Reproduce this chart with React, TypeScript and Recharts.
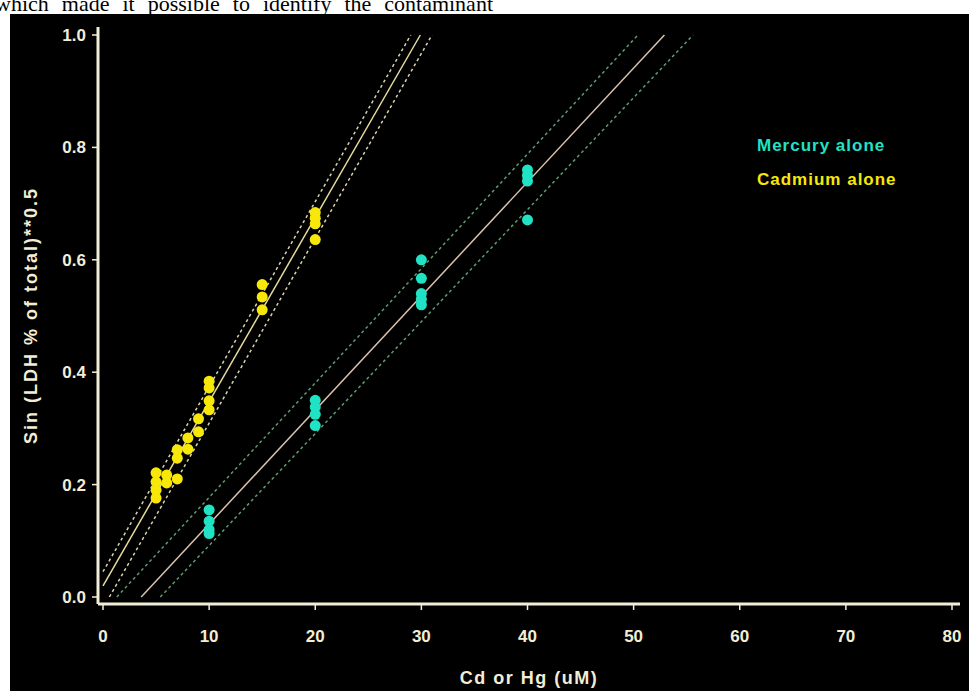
import { ComposedChart, XAxis, YAxis, Scatter, Line, Legend } from "recharts";

// measured points, x = metal concentration (uM), y = transformed LDH release
const mercuryPoints = [
  { x: 10, y: 0.155 }, { x: 10, y: 0.135 }, { x: 10, y: 0.12 }, { x: 10, y: 0.113 },
  { x: 20, y: 0.35 }, { x: 20, y: 0.338 }, { x: 20, y: 0.325 }, { x: 20, y: 0.305 },
  { x: 30, y: 0.6 }, { x: 30, y: 0.567 }, { x: 30, y: 0.54 }, { x: 30, y: 0.53 }, { x: 30, y: 0.52 },
  { x: 40, y: 0.76 }, { x: 40, y: 0.75 }, { x: 40, y: 0.74 }, { x: 40, y: 0.671 },
];

const cadmiumPoints = [
  { x: 5, y: 0.221 }, { x: 5, y: 0.205 }, { x: 5, y: 0.19 }, { x: 5, y: 0.176 },
  { x: 6, y: 0.217 }, { x: 6, y: 0.203 },
  { x: 7, y: 0.262 }, { x: 7, y: 0.247 }, { x: 7, y: 0.21 },
  { x: 8, y: 0.283 }, { x: 8, y: 0.263 },
  { x: 9, y: 0.317 }, { x: 9, y: 0.294 },
  { x: 10, y: 0.384 }, { x: 10, y: 0.372 }, { x: 10, y: 0.349 }, { x: 10, y: 0.333 },
  { x: 15, y: 0.556 }, { x: 15, y: 0.534 }, { x: 15, y: 0.511 },
  { x: 20, y: 0.684 }, { x: 20, y: 0.674 }, { x: 20, y: 0.664 }, { x: 20, y: 0.636 },
];

// fitted lines and their confidence bands (end points)
const cadmiumFit = [{ x: 0, y: 0.02 }, { x: 29.9, y: 1.0 }];
const cadmiumUpper = [{ x: 0, y: 0.045 }, { x: 29.0, y: 1.0 }];
const cadmiumLower = [{ x: 0.6, y: 0.0 }, { x: 31.0, y: 1.0 }];
const mercuryFit = [{ x: 3.6, y: 0.0 }, { x: 52.9, y: 1.0 }];
const mercuryUpper = [{ x: 1.3, y: 0.0 }, { x: 50.4, y: 1.0 }];
const mercuryLower = [{ x: 5.4, y: 0.0 }, { x: 55.6, y: 1.0 }];

const xTicks = [0, 10, 20, 30, 40, 50, 60, 70, 80];
const yTicks = [0, 0.2, 0.4, 0.6, 0.8, 1.0];
const legendOrder = ["Mercury alone", "Cadmium alone"];

const FRAME = "#f2eed6";
const YELLOW = "#f8e80a";
const CYAN = "#1fe3c4";
const font = "'Liberation Sans', Arial, sans-serif";

const tickStyle = { fill: FRAME, fontSize: 17, fontWeight: 700, fontFamily: font };

function dot(color: string) {
  return (p: any) => <circle cx={p.cx} cy={p.cy} r={5.5} fill={color} />;
}

function LegendBox({ payload }: any) {
  const items = legendOrder
    .map((name) => (payload || []).find((e: any) => e.value === name))
    .filter(Boolean);
  return (
    <div style={{ fontFamily: font, fontSize: 17, fontWeight: 700, letterSpacing: 1, lineHeight: "34px" }}>
      {items.map((e: any) => (
        <div key={e.value} style={{ color: e.color, whiteSpace: "nowrap" }}>
          {e.value}
        </div>
      ))}
    </div>
  );
}

export default function App() {
  return (
    <div style={{ position: "absolute", left: 0, top: 0, width: 969, height: 691, background: "#fff", overflow: "hidden" }}>
      <div
        style={{
          position: "absolute",
          right: 476,
          top: -7,
          fontFamily: "'Liberation Serif', 'Times New Roman', serif",
          fontSize: 22,
          lineHeight: "22px",
          wordSpacing: 7.5,
          whiteSpace: "nowrap",
          color: "#000",
        }}
      >
        which made it possible to identify the contaminant
      </div>
      <div style={{ position: "absolute", left: 10, top: 14, width: 959, height: 677, background: "#000" }}>
        <ComposedChart width={959} height={677} margin={{ top: 13, right: 9, bottom: 0, left: 0 }}>
          <XAxis
            dataKey="x"
            type="number"
            domain={[0, 80]}
            ticks={xTicks}
            padding={{ left: 5, right: 8 }}
            height={87}
            axisLine={{ stroke: FRAME, strokeWidth: 3 }}
            tickLine={{ stroke: FRAME, strokeWidth: 1.5 }}
            tickSize={6}
            tickMargin={20}
            tick={tickStyle}
            label={{
              value: "Cd or Hg (uM)",
              position: "insideBottom",
              offset: 7,
              style: { fill: FRAME, fontSize: 18, fontWeight: 700, fontFamily: font, letterSpacing: 1.5 },
            }}
          />
          <YAxis
            type="number"
            domain={[0, 1]}
            ticks={yTicks}
            padding={{ top: 8, bottom: 7 }}
            width={88}
            axisLine={{ stroke: FRAME, strokeWidth: 3 }}
            tickLine={{ stroke: FRAME, strokeWidth: 1.5 }}
            tickSize={6}
            tickMargin={6}
            tick={tickStyle}
            tickFormatter={(v: number) => v.toFixed(1)}
            label={{
              value: "Sin (LDH % of total)**0.5",
              angle: -90,
              position: "insideLeft",
              offset: 21,
              style: { fill: FRAME, fontSize: 18, fontWeight: 700, fontFamily: font, letterSpacing: 2, textAnchor: "middle" },
            }}
          />
          {/* extra axes only to close the frame */}
          <XAxis xAxisId="top" orientation="top" type="number" domain={[0, 80]} height={0} tick={false} tickLine={false} axisLine={{ stroke: FRAME, strokeWidth: 3 }} />
          <YAxis yAxisId="right" orientation="right" type="number" domain={[0, 1]} width={0} tick={false} tickLine={false} axisLine={{ stroke: FRAME, strokeWidth: 3 }} />

          <Line data={cadmiumUpper} dataKey="y" type="linear" stroke="#d8d2b0" strokeWidth={1.5} strokeDasharray="3 3" dot={false} legendType="none" isAnimationActive={false} />
          <Line data={cadmiumLower} dataKey="y" type="linear" stroke="#d8d2b0" strokeWidth={1.5} strokeDasharray="3 3" dot={false} legendType="none" isAnimationActive={false} />
          <Line data={cadmiumFit} dataKey="y" type="linear" stroke="#e6dc9a" strokeWidth={1.5} dot={false} legendType="none" isAnimationActive={false} />
          <Line data={mercuryUpper} dataKey="y" type="linear" stroke="#5f9a72" strokeWidth={1.5} strokeDasharray="3 3" dot={false} legendType="none" isAnimationActive={false} />
          <Line data={mercuryLower} dataKey="y" type="linear" stroke="#5f9a72" strokeWidth={1.5} strokeDasharray="3 3" dot={false} legendType="none" isAnimationActive={false} />
          <Line data={mercuryFit} dataKey="y" type="linear" stroke="#d9c2ae" strokeWidth={1.5} dot={false} legendType="none" isAnimationActive={false} />

          <Scatter name="Mercury alone" data={mercuryPoints} dataKey="y" fill={CYAN} shape={dot(CYAN)} isAnimationActive={false} />
          <Scatter name="Cadmium alone" data={cadmiumPoints} dataKey="y" fill={YELLOW} shape={dot(YELLOW)} isAnimationActive={false} />

          <Legend
            layout="horizontal"
            align="center"
            verticalAlign="middle"
            content={<LegendBox />}
            wrapperStyle={{ position: "absolute", left: 747, top: 115, width: "auto", height: "auto" }}
          />
        </ComposedChart>
      </div>
    </div>
  );
}
